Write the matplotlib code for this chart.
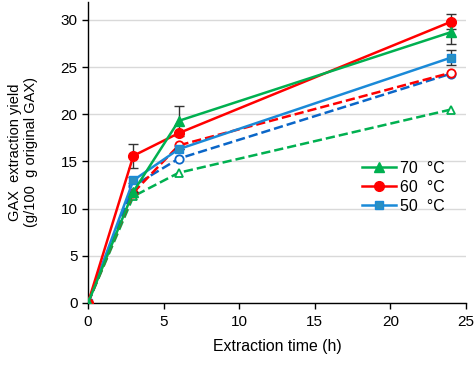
import matplotlib
matplotlib.use('Agg')
import matplotlib.pyplot as plt
from matplotlib.lines import Line2D

# Data
time_h = [0, 3, 6, 24]

y70_solid = [0, 11.8, 19.3, 28.7]
y60_solid = [0, 15.6, 18.0, 29.8]
y50_solid = [0, 13.0, 16.3, 26.0]
err70 = [0, 0, 1.6, 1.2]
err60 = [0, 1.3, 0, 0.8]
err50 = [0, 0.3, 0, 0.8]

y70_dash = [0, 11.3, 13.8, 20.5]
y60_dash = [0, 11.7, 16.7, 24.4]
y50_dash = [0, 12.4, 15.3, 24.3]

labels = ['70  °C', '60  °C', '50  °C']

GREEN = '#00b050'
RED = '#ff0000'
BLUE = '#1a8ad8'
DBLUE = '#0a66c8'

plt.rcParams['font.family'] = ['Liberation Sans', 'DejaVu Sans']

fig = plt.figure(figsize=(4.77, 3.69), dpi=100)
ax = fig.add_axes([0.1845, 0.179, 0.7925, 0.8156])

ax.grid(axis='y', color='#d9d9d9', linewidth=1.0, zorder=0)
ax.set_axisbelow(True)

# dashed series (open markers, not in legend)
ax.plot(time_h, y70_dash, '--', color=GREEN, lw=1.8, marker='^', ms=6,
        mfc='white', mec=GREEN, mew=1.3, zorder=3)
ax.plot(time_h, y50_dash, '--', color=DBLUE, lw=1.8, marker='o', ms=6,
        mfc='white', mec=DBLUE, mew=1.3, zorder=3)
ax.plot(time_h, y60_dash, '--', color=RED, lw=1.8, marker='o', ms=6,
        mfc='white', mec=RED, mew=1.3, zorder=3)

# solid series with error bars
styles = [
    (y50_solid, err50, BLUE, 's', 6, '#2a8fc0'),
    (y60_solid, err60, RED, 'o', 7, RED),
    (y70_solid, err70, GREEN, '^', 7, GREEN),
]
for ys, es, c, m, ms, fc in styles:
    ax.errorbar(time_h, ys, yerr=es, color=c, lw=1.8, marker=m, ms=ms,
                mfc=fc, mec=c, ecolor='#333333', elinewidth=1.0, capsize=3.5,
                zorder=5)

ax.set_xlim(0, 25)
ax.set_ylim(0, 31.9)
ax.set_xticks([0, 5, 10, 15, 20, 25])
ax.set_yticks([0, 5, 10, 15, 20, 25, 30])
ax.tick_params(axis='both', labelsize=11, direction='out', length=4, width=1)
ax.tick_params(axis='x', pad=5)

for s in ['top', 'right']:
    ax.spines[s].set_visible(False)
for s in ['left', 'bottom']:
    ax.spines[s].set_color('black')
    ax.spines[s].set_linewidth(1.0)

ax.set_xlabel('Extraction time (h)', fontsize=11.4, labelpad=7)
ax.set_ylabel('GAX  extraction yield\n(g/100  g original GAX)', fontsize=10.5,
              labelpad=16)

handles = [
    Line2D([], [], color=GREEN, lw=1.8, marker='^', ms=7, mfc=GREEN, mec=GREEN),
    Line2D([], [], color=RED, lw=1.8, marker='o', ms=7, mfc=RED, mec=RED),
    Line2D([], [], color=BLUE, lw=1.8, marker='s', ms=6, mfc='#2a8fc0', mec=BLUE),
]
ax.legend(handles, labels, loc='center left', bbox_to_anchor=(0.725, 0.385),
          frameon=False, fontsize=11.5, handlelength=2.1, handletextpad=0.25,
          labelspacing=0.25, borderpad=0, borderaxespad=0)

fig.savefig('out.png', dpi=100)
